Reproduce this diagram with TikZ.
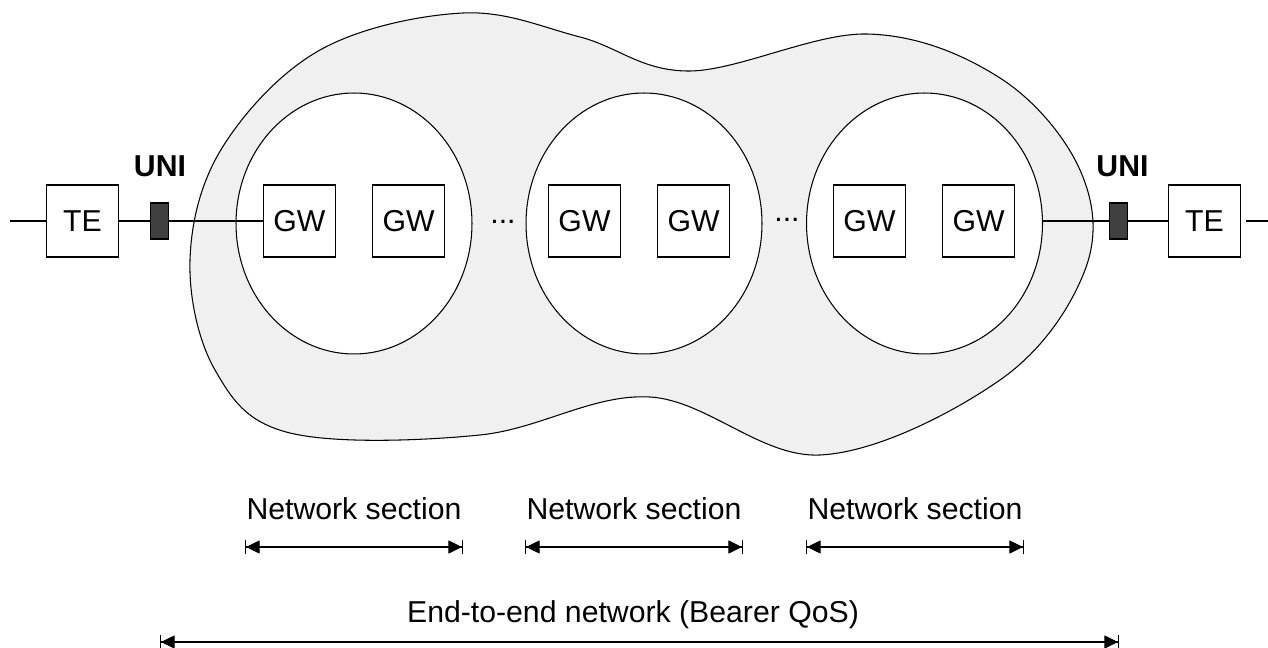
\documentclass[tikz,border=0pt]{standalone}
\usepackage{fontspec}
\setmainfont{Liberation Sans}
\usetikzlibrary{arrows.meta,positioning,shapes.geometric}

\definecolor{cloudgray}{HTML}{F0F0F0}
\definecolor{unigray}{HTML}{404040}

\tikzset{
  every node/.style={font=\fontsize{17.2}{20.6}\selectfont},
  box/.style={draw,fill=white,minimum size=1.44cm,inner sep=0pt},
  sect/.style={draw,fill=white,ellipse,minimum width=4.72cm,minimum height=5.22cm,inner sep=0pt},
  uni/.style={draw,fill=unigray,minimum width=0.36cm,minimum height=0.72cm,inner sep=0pt},
  unilabel/.style={font=\fontsize{17.2}{20.6}\selectfont\bfseries},
  span/.style={{Bar[width=0.28cm]Triangle[length=0.27cm,width=0.26cm]}-{Triangle[length=0.27cm,width=0.26cm]Bar[width=0.28cm]}},
}

\begin{document}
\begin{tikzpicture}[x=0.02cm,y=-0.02cm,line width=0.6pt]
\useasboundingbox (0,0) rectangle (1268,648);

% network cloud
\draw[fill=cloudgray] plot[smooth cycle,tension=0.6] coordinates {
  (463,13) (580,37) (690,71) (867,34) (1000,78) (1080,170) (1085,270)
  (1000,380) (820,455) (650,397) (480,435) (290,433) (215,370) (190,260)
  (222,148) (320,50)};

% network sections
\node[sect] (sec1) at (354,223.5) {};
\node[sect] (sec2) at (644,223.5) {};
\node[sect] (sec3) at (924.5,223.5) {};

% terminals and UNI
\coordinate (inL) at (10,221);
\coordinate (outR) at (1268,221);
\node[box] (teL) at (82.5,221) {TE};
\node[uni] (uniL) at (159.5,221) {};
\node[unilabel] (uniLtxt) at (160,166) {UNI};
\node[uni] (uniR) at (1118.5,221) {};
\node[unilabel] (uniRtxt) at (1122.5,166) {UNI};
\node[box] (teR) at (1204.5,221) {TE};

\draw (inL) -- (teL) -- (uniL);
\draw[shorten >=0.1cm] (uniL) -- (299.5,221);
\draw[shorten <=0.1cm] (sec3.east |- uniR) -- (uniR) -- (teR) -- (outR);

% gateways
\node[box] (gw1) at (299.5,221) {GW};
\node[box,right=0.72cm of gw1] (gw2) {GW};
\node[box] (gw3) at (584.5,221) {GW};
\node[box,right=0.72cm of gw3] (gw4) {GW};
\node[box] (gw5) at (869.5,221) {GW};
\node[box,right=0.72cm of gw5] (gw6) {GW};
\node (dots1) at (503,222) {...};
\node (dots2) at (787,220) {...};

% spans
\node[anchor=base] (lab1) at (354,520) {Network section};
\node[anchor=base] (lab2) at (634,520) {Network section};
\node[anchor=base] (lab3) at (915,520) {Network section};
\node[anchor=base] (labE) at (633,622) {End-to-end network (Bearer QoS)};
\coordinate (s1a) at (245,547); \coordinate (s1b) at (463,547);
\coordinate (s2a) at (525,547); \coordinate (s2b) at (743,547);
\coordinate (s3a) at (806,547); \coordinate (s3b) at (1024,547);
\coordinate (ea) at (160,642); \coordinate (eb) at (1119,642);
\draw[span] (s1a) -- (s1b);
\draw[span] (s2a) -- (s2b);
\draw[span] (s3a) -- (s3b);
\draw[span] (ea) -- (eb);
\end{tikzpicture}
\end{document}
